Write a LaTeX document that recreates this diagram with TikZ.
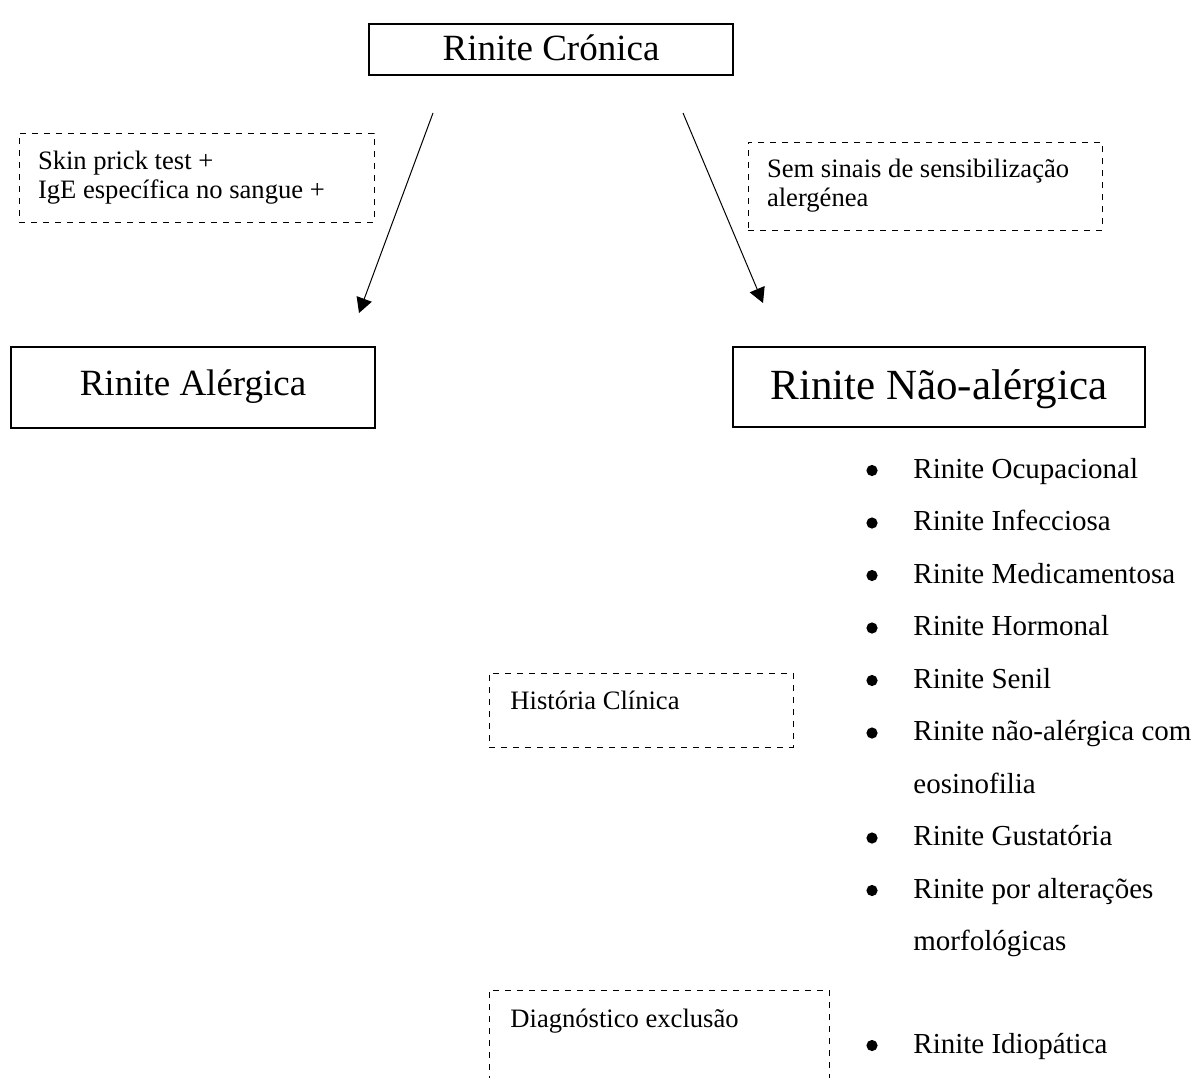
\documentclass[tikz,border=0pt]{standalone}
\usepackage{fontspec}
\setmainfont{Liberation Serif}
\usetikzlibrary{arrows.meta,positioning}

\begin{document}
\begin{tikzpicture}[x=0.5pt,y=-0.5pt,
  box/.style={draw,line width=0.6pt,inner sep=0pt},
  hint/.style={draw,dashed,line width=0.5pt,inner sep=0pt},
  note/.style={hint,align=flush left,inner xsep=9.5pt,font=\fontsize{13.3}{14.5}\selectfont},
  notetxt/.style={anchor=base west,inner sep=0pt,font=\fontsize{13.3}{14.5}\selectfont},
  item/.style={anchor=base west,inner sep=0pt,font=\fontsize{14.5}{16}\selectfont},
  dot/.style={circle,fill,inner sep=0pt,minimum size=5.6pt},
  link/.style={-{Triangle[length=7.5pt,width=8pt]},line width=0.5pt}]
  \useasboundingbox (0,0) rectangle (1198,1077);

  % main boxes
  \node[box,minimum width=182pt,minimum height=25.5pt,text height=13pt,text depth=2.5pt,
    font=\fontsize{18.5}{20}\selectfont] (cronica) at (551,49.5) {Rinite Crónica};
  \node[box,minimum width=182pt,minimum height=40.5pt,text height=12pt,text depth=4.5pt,
    font=\fontsize{18.5}{20}\selectfont] (alergica) at (193,387.5) {Rinite Alérgica};
  \node[box,minimum width=206pt,minimum height=40pt,text height=15pt,text depth=3pt,
    font=\fontsize{21.5}{23}\selectfont] (naoalergica) at (939,387) {Rinite Não-alérgica};

  % dashed notes
  \node[note,text width=158.5pt,minimum height=44.5pt] (skin) at (196.5,177.5)
    {Skin prick test +\\IgE específica no sangue +};
  \node[note,text width=158pt,minimum height=44pt] (semsinais) at (925,186)
    {Sem sinais de sensibilização\\alergénea};
  \node[hint,minimum width=152pt,minimum height=37pt] (historia) at (641,710) {};
  \node[notetxt] (historiatxt) at (510,709) {História Clínica};
  \node[hint,minimum width=170pt,minimum height=55pt] (exclusao) at (659,1045) {};
  \node[notetxt] (exclusaotxt) at (510,1027) {Diagnóstico exclusão};

  % arrows
  \coordinate (a0) at (433,113);
  \coordinate (a1) at (359,313);
  \coordinate (b0) at (683,113);
  \coordinate (b1) at (763,303);
  \draw[link] (a0) -- (a1);
  \draw[link] (b0) -- (b1);

  % list of non-allergic types
  \foreach \y/\txt [count=\i] in {478/Rinite Ocupacional,530.5/Rinite Infecciosa,
      583/Rinite Medicamentosa,635.5/Rinite Hormonal,688/Rinite Senil,
      740.5/Rinite não-alérgica com,845.5/Rinite Gustatória,
      898/Rinite por alterações,1053/Rinite Idiopática} {
    \node[dot] (d\i) at (872,\y-7.5) {};
    \node[item] (t\i) at (913,\y) {\txt};
  }
  \foreach \y/\txt [count=\i] in {793/eosinofilia,950.5/morfológicas} {
    \node[item] (c\i) at (913,\y) {\txt};
  }
\end{tikzpicture}
\end{document}
